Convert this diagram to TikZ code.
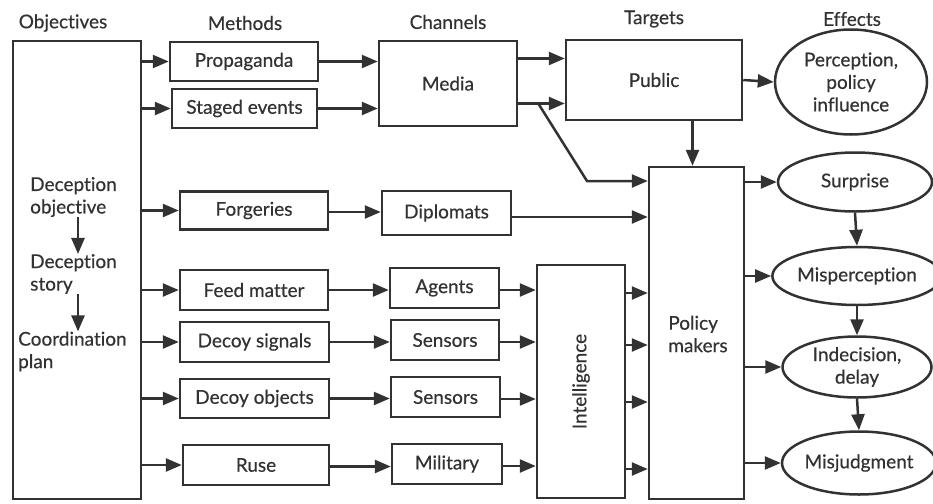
\documentclass[tikz,border=0pt]{standalone}
\usepackage{fontspec}
\setmainfont{Lato}[Ligatures=NoCommon, FakeBold=0.5]
\usetikzlibrary{arrows.meta,calc,shapes.geometric}
\definecolor{ink}{RGB}{50,50,50}
\tikzset{
  every node/.style={font=\fontsize{19}{22.5}\selectfont, text=ink},
  bx/.style={draw=ink, line width=2.5pt, rectangle, inner sep=0pt, align=center},
  el/.style={draw=ink, line width=2.5pt, ellipse, inner sep=0pt, align=center},
  arr/.style={draw=ink, line width=2.5pt, -{Triangle[length=16pt,width=13pt]}},
  hd/.style={inner sep=0pt}
}
\begin{document}
\begin{tikzpicture}[x=1pt,y=-1pt]
\useasboundingbox (0,0) rectangle (933,503);
% headers
\node[hd] (h1) at (63,23) {Objectives};
\node[hd] (h2) at (245,23) {Methods};
\node[hd] (h3) at (448,22) {Channels};
\node[hd] (h4) at (654,19) {Targets};
\node[hd] (h5) at (852,19) {Effects};
% objectives
\node[bx, minimum width=128, minimum height=458] (obj) at (77,270) {};
\node[hd, align=left, anchor=west] (dobj) at (30,197) {Deception\\objective};
\node[hd, align=left, anchor=west] (dstory) at (30,274) {Deception\\story};
\node[hd, align=left, anchor=west] (cplan) at (18,351.5) {Coordination\\plan};
\coordinate (ax) at (78,0);
\draw[arr] (dobj.south -| ax) -- (dstory.north -| ax);
\draw[arr] (dstory.south -| ax) -- (cplan.north -| ax);
% methods
\node[bx, minimum width=148, minimum height=39] (prop) at (244,61.5) {Propaganda};
\node[bx, minimum width=145, minimum height=39] (staged) at (244.5,108.5) {Staged events};
\node[bx, minimum width=148, minimum height=38] (forg) at (254,210.5) {Forgeries};
\node[bx, minimum width=148, minimum height=40] (feed) at (254,290) {Feed matter};
\node[bx, minimum width=149, minimum height=40] (sig) at (254.5,342) {Decoy signals};
\node[bx, minimum width=149, minimum height=39] (objs) at (254.5,398.5) {Decoy objects};
\node[bx, minimum width=146, minimum height=40] (ruse) at (256,465) {Ruse};
% channels
\node[bx, minimum width=138, minimum height=85] (media) at (448,83.5) {Media};
\node[bx, minimum width=129, minimum height=44] (dipl) at (446.5,213) {Diplomats};
\node[bx, minimum width=109, minimum height=40] (agents) at (444.5,288) {Agents};
\node[bx, minimum width=108, minimum height=40] (sens1) at (445,340) {Sensors};
\node[bx, minimum width=109, minimum height=40] (sens2) at (445.5,397) {Sensors};
\node[bx, minimum width=110, minimum height=40] (mil) at (447,464) {Military};
\node[bx, minimum width=88, minimum height=233] (intel) at (581,381.5) {};
\node[hd, rotate=90] (intelt) at (intel.center) {Intelligence};
% targets
\node[bx, minimum width=176, minimum height=80] (public) at (654,80) {Public};
\node[bx, minimum width=95, minimum height=332] (policy) at (696.5,333) {};
\node[hd, align=left] (policyt) at (698,334) {Policy\\makers};
% effects
\node[el, minimum width=152, minimum height=105] (percep) at (851,82) {Perception,\\policy\\influence};
\node[el, minimum width=154, minimum height=59] (surp) at (855,182) {Surprise};
\node[el, minimum width=149, minimum height=58] (misp) at (857,276) {Misperception};
\node[el, minimum width=149, minimum height=61] (indec) at (857,367) {Indecision,\\delay};
\node[el, minimum width=146, minimum height=63] (misj) at (859,463) {Misjudgment};
% objectives -> methods
\foreach \m in {prop,staged,forg,feed,sig,objs,ruse}
  \draw[arr] (obj.east |- \m.west) -- (\m.west);
% methods -> channels
\draw[arr] (prop.east) -- (media.west |- prop.east);
\draw[arr] (staged.east) -- (media.west |- staged.east);
\draw[arr] ([yshift=-1.5pt]forg.east) -- ([yshift=-1.5pt]dipl.west |- forg.east);
\draw[arr] (feed.east) -- (agents.west |- feed.east);
\draw[arr] (sig.east) -- (sens1.west |- sig.east);
\draw[arr] (objs.east) -- (sens2.west |- objs.east);
\draw[arr] ([yshift=-1.5pt]ruse.east) -- ([yshift=-1.5pt]mil.west |- ruse.east);
% channels -> intelligence
\foreach \c in {agents,sens1,sens2,mil}
  \draw[arr] ([yshift=-2pt]\c.east) -- ([yshift=-2pt]intel.west |- \c.east);
% intelligence -> policy
\foreach \c in {agents,sens1,sens2,mil}
  \draw[arr] ([yshift=-5pt]intel.east |- \c.east) -- ([yshift=-5pt]policy.west |- \c.east);
% media -> public
\draw[arr] ($(media.east)+(0,-25)$) -- ($(public.west |- media.east)+(0,-25)$);
\draw[arr] ($(media.east)+(0,20)$) -- ($(public.west |- media.east)+(0,20)$);
\coordinate (mb1) at ($(media.east)+(20,20)$);
\coordinate (mb2) at (587,181);
\draw[arr] (mb1) -- (mb2) -- (policy.west |- mb2);
% diplomats -> policy
\draw[arr] ([yshift=-4pt]dipl.east) -- ([yshift=-4pt]policy.west |- dipl.east);
% public -> policy, percep
\draw[arr] ([xshift=-4pt]policy.north |- public.south) -- ([xshift=-4pt]policy.north);
\draw[arr] (public.east) -- (percep.west);
% policy -> effects
\foreach \e in {surp,misp,indec,misj}
  \draw[arr] (policy.east |- \e.west) -- (\e.west);
% effects chain
\draw[arr] (surp.south) -- (misp.north);
\draw[arr] (misp.south) -- (indec.north);
\draw[arr] (indec.south) -- (misj.north);
\end{tikzpicture}
\end{document}
